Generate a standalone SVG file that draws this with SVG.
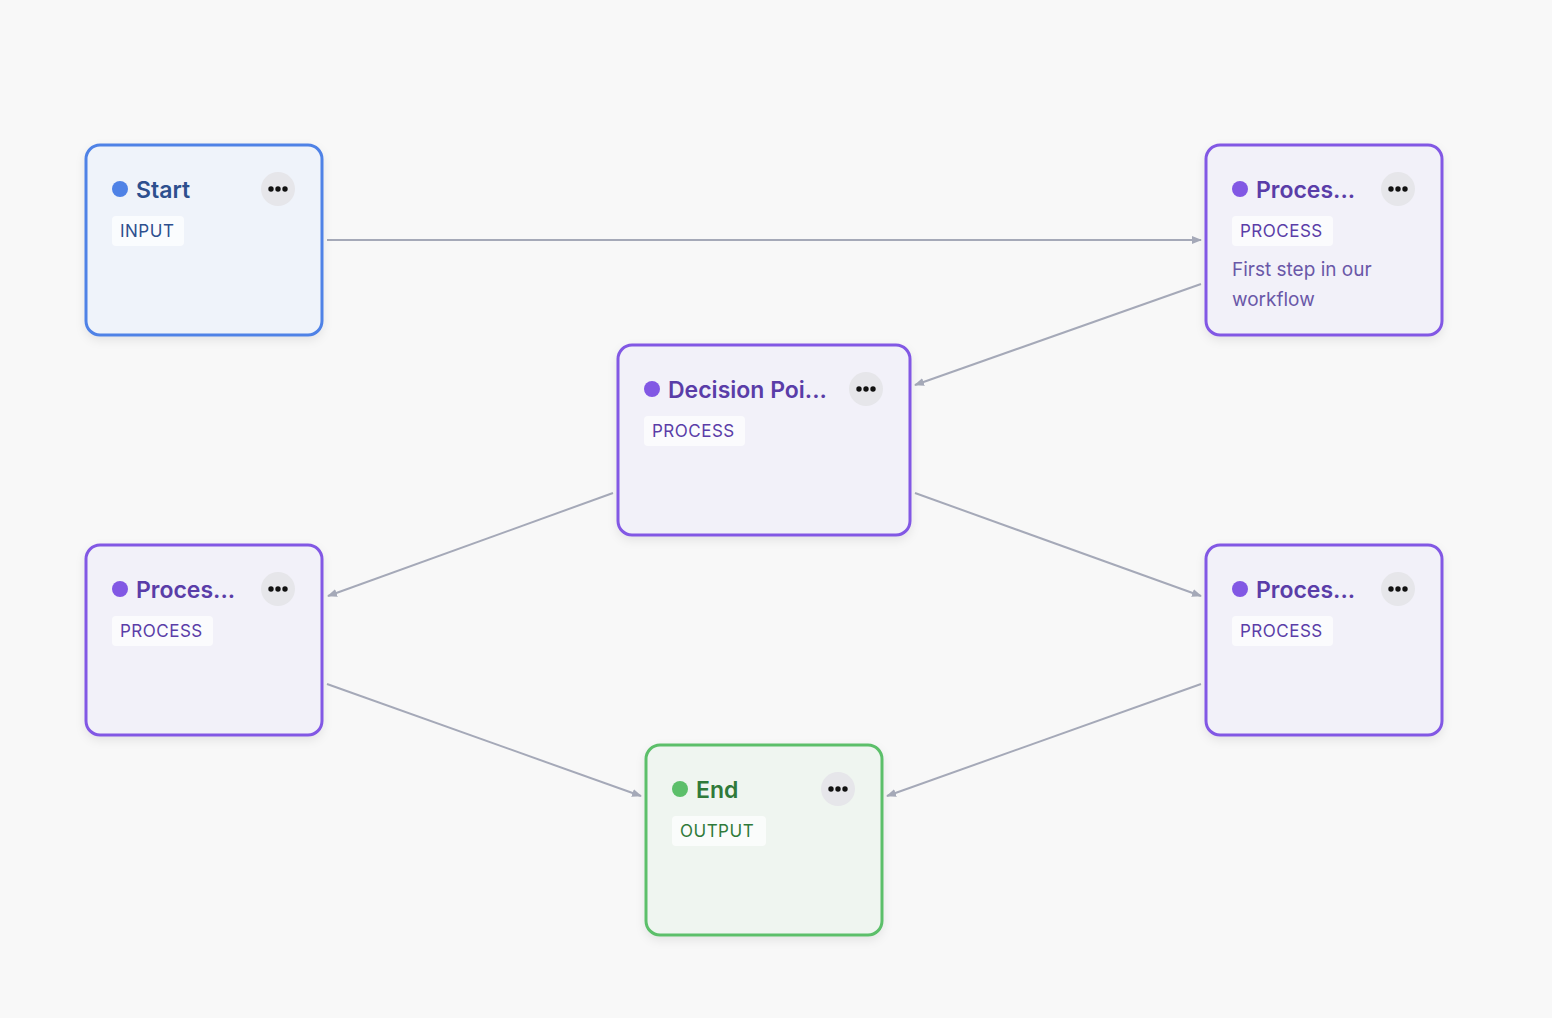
<svg xmlns="http://www.w3.org/2000/svg" width="1552" height="1018" viewBox="0 0 1552 1018">
<defs>
<marker id="ar" viewBox="0 0 10 10" refX="9" refY="5" markerWidth="10" markerHeight="10" markerUnits="userSpaceOnUse" orient="auto"><path d="M0,1 L10,5 L0,9 Z" fill="#a5a9b8"/></marker>
<filter id="sh" x="-10%" y="-10%" width="120%" height="130%"><feDropShadow dx="0" dy="4" stdDeviation="5" flood-color="#000" flood-opacity="0.08"/></filter>
</defs>
<style>
text{font-family:Inter,"Noto Sans",sans-serif}
.t{font-size:23px;font-weight:600}
.b{font-size:17px;letter-spacing:0.5px}
.d{font-size:19px}
.badge{fill:#fff;fill-opacity:0.7}
.menu{fill:#e6e6ea}
.dots{fill:#111}
.e{stroke:#a5a9b8;stroke-width:2;fill:none;marker-end:url(#ar)}
.blue rect.n{fill:#eff3fa;stroke:#4f82e6}
.purple rect.n{fill:#f2f1f9;stroke:#8258e4}
.green rect.n{fill:#eff5f0;stroke:#5cbf6a}
rect.n{stroke-width:3}
.blue .c{fill:#4f82e6}.blue text{fill:#2d4f8e}
.purple .c{fill:#8258e4}.purple text{fill:#5a3da8}
.green .c{fill:#5cbf6a}.green text{fill:#2f7a3a}
.purple text.d{fill:#6a58a8}
</style>
<rect width="1552" height="1018" fill="#f8f8f8"/>
<g id="edges">
<line class="e" x1="327" y1="240" x2="1201" y2="240"/>
<line class="e" x1="1201" y1="284" x2="915" y2="385"/>
<line class="e" x1="613" y1="493" x2="328" y2="596"/>
<line class="e" x1="915" y1="493" x2="1201" y2="596"/>
<line class="e" x1="327" y1="684" x2="641" y2="796"/>
<line class="e" x1="1201" y1="684" x2="887" y2="796"/>
</g>
<g id="start" class="blue" transform="translate(86,145)">
<rect class="n" width="236" height="190" rx="14" filter="url(#sh)"/>
<circle class="c" cx="34" cy="44" r="8"/><text class="t" x="50" y="53">Start</text>
<circle class="menu" cx="192" cy="44" r="17"/><g class="dots"><circle cx="185" cy="44" r="2.7"/><circle cx="192" cy="44" r="2.7"/><circle cx="199" cy="44" r="2.7"/></g>
<rect class="badge" x="26" y="71" width="72" height="30" rx="4"/><text class="b" x="34" y="92">INPUT</text>
</g>
<g id="process1" class="purple" transform="translate(1206,145)">
<rect class="n" width="236" height="190" rx="14" filter="url(#sh)"/>
<circle class="c" cx="34" cy="44" r="8"/><text class="t" x="50" y="53">Proces...</text>
<circle class="menu" cx="192" cy="44" r="17"/><g class="dots"><circle cx="185" cy="44" r="2.7"/><circle cx="192" cy="44" r="2.7"/><circle cx="199" cy="44" r="2.7"/></g>
<rect class="badge" x="26" y="71" width="101" height="30" rx="4"/><text class="b" x="34" y="92">PROCESS</text>
<text class="d" x="26" y="131">First step in our</text><text class="d" x="26" y="161">workflow</text>
</g>
<g id="decision" class="purple" transform="translate(618,345)">
<rect class="n" width="292" height="190" rx="14" filter="url(#sh)"/>
<circle class="c" cx="34" cy="44" r="8"/><text class="t" x="50" y="53">Decision Poi...</text>
<circle class="menu" cx="248" cy="44" r="17"/><g class="dots"><circle cx="241" cy="44" r="2.7"/><circle cx="248" cy="44" r="2.7"/><circle cx="255" cy="44" r="2.7"/></g>
<rect class="badge" x="26" y="71" width="101" height="30" rx="4"/><text class="b" x="34" y="92">PROCESS</text>
</g>
<g id="process2" class="purple" transform="translate(86,545)">
<rect class="n" width="236" height="190" rx="14" filter="url(#sh)"/>
<circle class="c" cx="34" cy="44" r="8"/><text class="t" x="50" y="53">Proces...</text>
<circle class="menu" cx="192" cy="44" r="17"/><g class="dots"><circle cx="185" cy="44" r="2.7"/><circle cx="192" cy="44" r="2.7"/><circle cx="199" cy="44" r="2.7"/></g>
<rect class="badge" x="26" y="71" width="101" height="30" rx="4"/><text class="b" x="34" y="92">PROCESS</text>
</g>
<g id="process3" class="purple" transform="translate(1206,545)">
<rect class="n" width="236" height="190" rx="14" filter="url(#sh)"/>
<circle class="c" cx="34" cy="44" r="8"/><text class="t" x="50" y="53">Proces...</text>
<circle class="menu" cx="192" cy="44" r="17"/><g class="dots"><circle cx="185" cy="44" r="2.7"/><circle cx="192" cy="44" r="2.7"/><circle cx="199" cy="44" r="2.7"/></g>
<rect class="badge" x="26" y="71" width="101" height="30" rx="4"/><text class="b" x="34" y="92">PROCESS</text>
</g>
<g id="end" class="green" transform="translate(646,745)">
<rect class="n" width="236" height="190" rx="14" filter="url(#sh)"/>
<circle class="c" cx="34" cy="44" r="8"/><text class="t" x="50" y="53">End</text>
<circle class="menu" cx="192" cy="44" r="17"/><g class="dots"><circle cx="185" cy="44" r="2.7"/><circle cx="192" cy="44" r="2.7"/><circle cx="199" cy="44" r="2.7"/></g>
<rect class="badge" x="26" y="71" width="94" height="30" rx="4"/><text class="b" x="34" y="92">OUTPUT</text>
</g>
</svg>
